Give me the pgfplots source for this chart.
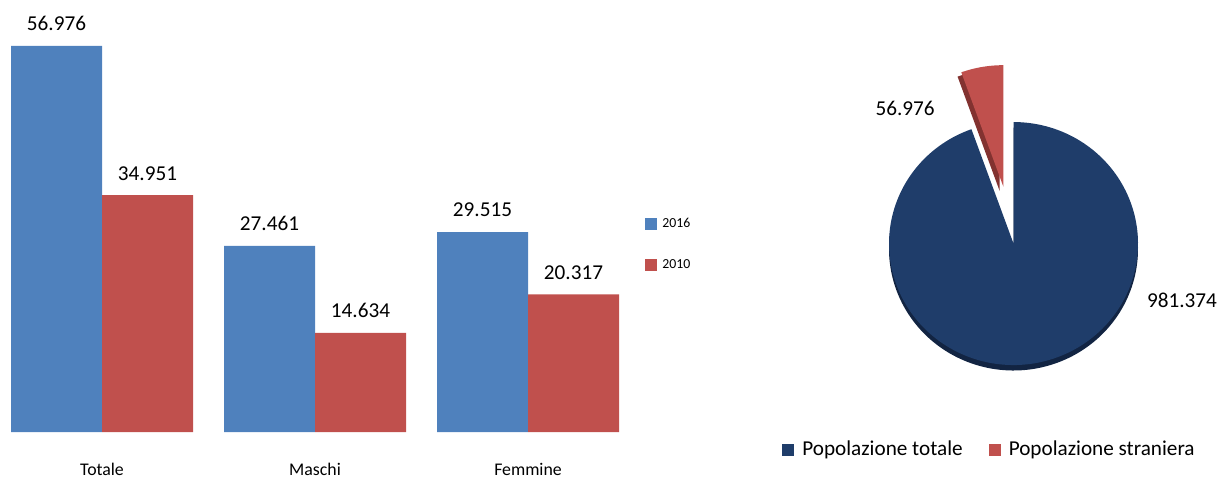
\documentclass[border=0pt]{standalone}
\usepackage{fontspec}
\setmainfont{Carlito}
\usepackage{pgfplots}
\pgfplotsset{compat=1.18}
\definecolor{c2016}{HTML}{4F81BD}
\definecolor{c2010}{HTML}{C0504D}
\definecolor{navy}{RGB}{31,61,106}
\definecolor{navyside}{RGB}{18,36,66}
\definecolor{redside}{RGB}{130,50,48}
\begin{document}
\begin{tikzpicture}
\useasboundingbox (0,0) rectangle (610pt,238.5pt);
\begin{axis}[
  at={(0pt,22.5pt)}, anchor=south west,
  scale only axis, width=317.25pt, height=203.25pt,
  xmin=-0.479, xmax=2.5, ymin=0, ymax=60,
  axis line style={draw=none},
  ytick=\empty,
  xtick={0,1,2}, xticklabels={Totale,Maschi,Femmine},
  major tick length=0pt,
  xticklabel style={font=\fontsize{8.9}{10}\selectfont, anchor=base, yshift=-21.5pt},
  ybar=0pt, bar width=45.5pt,
  nodes near coords={\pgfmathprintnumber[fixed,fixed zerofill,precision=3,assume math mode=true]{\pgfplotspointmeta}},
  every node near coord/.append style={font=\fontsize{10.6}{12}\selectfont, anchor=base, yshift=7.6pt, text=black},
  legend style={draw=none, fill=none, at={(1.0165,0.4606)}, anchor=west, inner sep=0pt, row sep=10.5pt,
    font=\fontsize{6.9}{8}\selectfont,
    /tikz/every odd column/.append style={column sep=0.5pt}},
  legend image code/.code={\fill[#1,draw=none] (0pt,-3pt) rectangle (6pt,3pt);},
  legend cell align=left,
]
\addplot[fill=c2016, draw=none] coordinates {(0,56.976) (1,27.461) (2,29.515)};
\addplot[fill=c2010, draw=none] coordinates {(0,34.951) (1,14.634) (2,20.317)};
\legend{2016,2010}
\end{axis}

\def\vTot{981.374}
\def\vStr{56.976}
\pgfmathsetmacro\fracStr{\vStr/(\vTot+\vStr)}
\pgfmathsetmacro\angStr{360*\fracStr}
\pgfmathsetmacro\angA{\angStr-270}
\pgfmathsetmacro\angB{90+\angStr}
\pgfmathsetmacro\midS{90+\angStr/2}
\pgfmathsetmacro\ox{0.475*cos(\midS)}
\pgfmathsetmacro\oy{0.475*sin(\midS)}
\pgfmathsetmacro\oxs{\ox-0.03}
\pgfmathsetmacro\oys{\oy-0.035}

\begin{axis}[
  at={(432.05pt,49.9pt)}, anchor=south west,
  scale only axis, width=149.4pt, height=161pt,
  xmin=-1.2, xmax=1.2, ymin=-1.1, ymax=1.55,
  hide axis, clip=false,
  legend columns=-1,
  legend style={draw=none, fill=none, at={(-0.275,-0.226)}, anchor=west, inner sep=0pt,
    font=\fontsize{10.6}{12}\selectfont,
    /tikz/every odd column/.append style={column sep=2pt},
    /tikz/every even column/.append style={column sep=11pt}},
  legend image code/.code={\fill[#1,draw=none] (0pt,-3pt) rectangle (6pt,3pt);},
]
\addplot[forget plot, fill=navyside, draw=none, domain=\angA:90, samples=180, variable=\t]
  ({cos(\t)},{sin(\t)-0.045}) -- (axis cs:0,-0.045) -- cycle;
\addplot[forget plot, fill=navy, draw=none, domain=\angA:90, samples=180, variable=\t]
  ({cos(\t)},{sin(\t)}) -- (axis cs:0,0) -- cycle;
\addplot[forget plot, fill=redside, draw=none, domain=90:\angB, samples=30, variable=\t]
  ({\oxs+cos(\t)},{\oys+sin(\t)}) -- (axis cs:\oxs,\oys) -- cycle;
\addplot[forget plot, fill=c2010, draw=none, domain=90:\angB, samples=30, variable=\t]
  ({\ox+cos(\t)},{\oy+sin(\t)}) -- (axis cs:\ox,\oy) -- cycle;
\node[font=\fontsize{10.6}{12}\selectfont] at (axis cs:-0.871,1.115) {56.976};
\node[font=\fontsize{10.6}{12}\selectfont] at (axis cs:1.353,-0.465) {981.374};
\addlegendimage{fill=navy}
\addlegendentry{Popolazione totale}
\addlegendimage{fill=c2010}
\addlegendentry{Popolazione straniera}
\end{axis}
\end{tikzpicture}
\end{document}
